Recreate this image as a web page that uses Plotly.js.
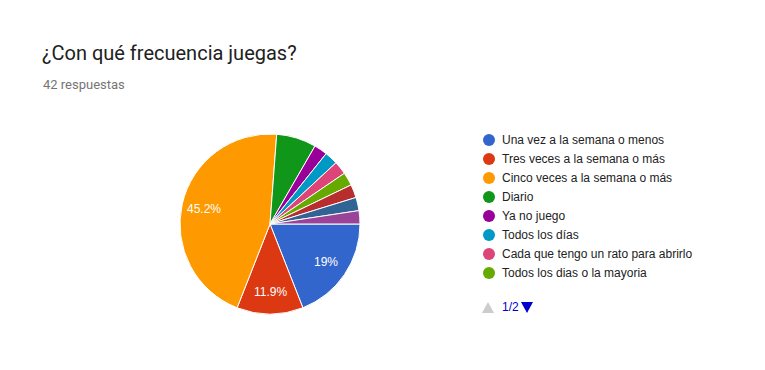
<!DOCTYPE html>
<html><head><meta charset="utf-8">
<script src="https://cdn.plot.ly/plotly-3.0.1.min.js"></script>
<style>body{margin:0;background:#fff}#c{width:765px;height:370px}</style>
</head><body><div id="c"></div>
<script>
const labels = ["Una vez a la semana o menos","Tres veces a la semana o más","Cinco veces a la semana o más","Diario","Ya no juego","Todos los días","Cada que tengo un rato para abrirlo","Todos los dias o la mayoria","Casi nunca","Fines de semana","Cuando puedo"];
const values = [8,5,19,3,1,1,1,1,1,1,1];
const colors = ["#3366cc","#dc3912","#ff9900","#109618","#990099","#0099c6","#dd4477","#66aa00","#b82e2e","#316395","#994499"];
const titleText = "¿Con qué frecuencia juegas?";
const subtitleText = "42 respuestas";
const legendPage = "1/2";
const legendVisible = 8;

const W = 765, H = 370;
const px = x => x / W, py = y => 1 - y / H;
const FONT = "Arial, 'Liberation Sans', sans-serif";
const HFONT = "Roboto, Arial, sans-serif";
const total = values.reduce((a,b)=>a+b,0);

const cx = 270, cy = 224, r = 90;
const startDeg = 90;
const trace = {
  type: "pie", labels: labels, values: values,
  textinfo: "none", sort: false, direction: "clockwise", rotation: startDeg,
  marker: {colors: colors, line: {color: "#ffffff", width: 1}},
  domain: {x: [px(cx-r), px(cx+r)], y: [py(cy+r), py(cy-r)]},
  showlegend: false, hoverinfo: "label+percent"
};

const annotations = [
  {text: titleText, x: px(40), y: py(53), xref: "paper", yref: "paper", xanchor: "left", yanchor: "middle", showarrow: false,
   font: {family: HFONT, size: 20, color: "#212121"}},
  {text: subtitleText, x: px(41), y: py(84), xref: "paper", yref: "paper", xanchor: "left", yanchor: "middle", showarrow: false,
   font: {family: HFONT, size: 13, color: "#757575"}}
];
// slice labels (percent) for slices >= 10%
let acc = 0;
values.forEach((v, i) => {
  const p = v / total * 100;
  const mid = startDeg + (acc + v/2) / total * 360;
  acc += v;
  if (p < 10) return;
  const a = mid * Math.PI / 180;
  const d = 0.75 * r;
  const x = cx + d * Math.sin(a), y = cy - d * Math.cos(a);
  annotations.push({text: (Math.round(p*10)/10).toString() + "%", x: px(x), y: py(y), xref: "paper", yref: "paper",
    xanchor: "center", yanchor: "middle", showarrow: false, font: {family: FONT, size: 12, color: "#ffffff"}});
});

const shapes = [];
for (let i = 0; i < legendVisible; i++) {
  const y = 140 + i*19;
  shapes.push({type: "circle", xref: "paper", yref: "paper", x0: px(483), x1: px(495), y0: py(y+6), y1: py(y-6),
    fillcolor: colors[i], line: {width: 0}});
  annotations.push({text: labels[i], x: px(500), y: py(y), xref: "paper", yref: "paper", xanchor: "left", yanchor: "middle",
    showarrow: false, font: {family: FONT, size: 12, color: "#222222"}});
}
const tri = (x0, x1, yTop, yBot, up) => up
  ? `M ${px(x0)},${py(yBot)} L ${px(x1)},${py(yBot)} L ${px((x0+x1)/2)},${py(yTop)} Z`
  : `M ${px(x0)},${py(yTop)} L ${px(x1)},${py(yTop)} L ${px((x0+x1)/2)},${py(yBot)} Z`;
shapes.push({type: "path", xref: "paper", yref: "paper", path: tri(482, 494, 302, 313, true), fillcolor: "#cccccc", line: {width: 0}});
shapes.push({type: "path", xref: "paper", yref: "paper", path: tri(521, 533, 302, 313, false), fillcolor: "#0000cc", line: {width: 0}});
annotations.push({text: legendPage, x: px(500), y: py(307), xref: "paper", yref: "paper", xanchor: "left", yanchor: "middle", showarrow: false,
  font: {family: FONT, size: 12, color: "#0000cc"}});

const layout = {
  width: W, height: H, margin: {l:0, r:0, t:0, b:0},
  paper_bgcolor: "#ffffff", plot_bgcolor: "#ffffff",
  showlegend: false, annotations: annotations, shapes: shapes
};
Plotly.newPlot("c", [trace], layout, {displayModeBar: false, staticPlot: true});
</script></body></html>
